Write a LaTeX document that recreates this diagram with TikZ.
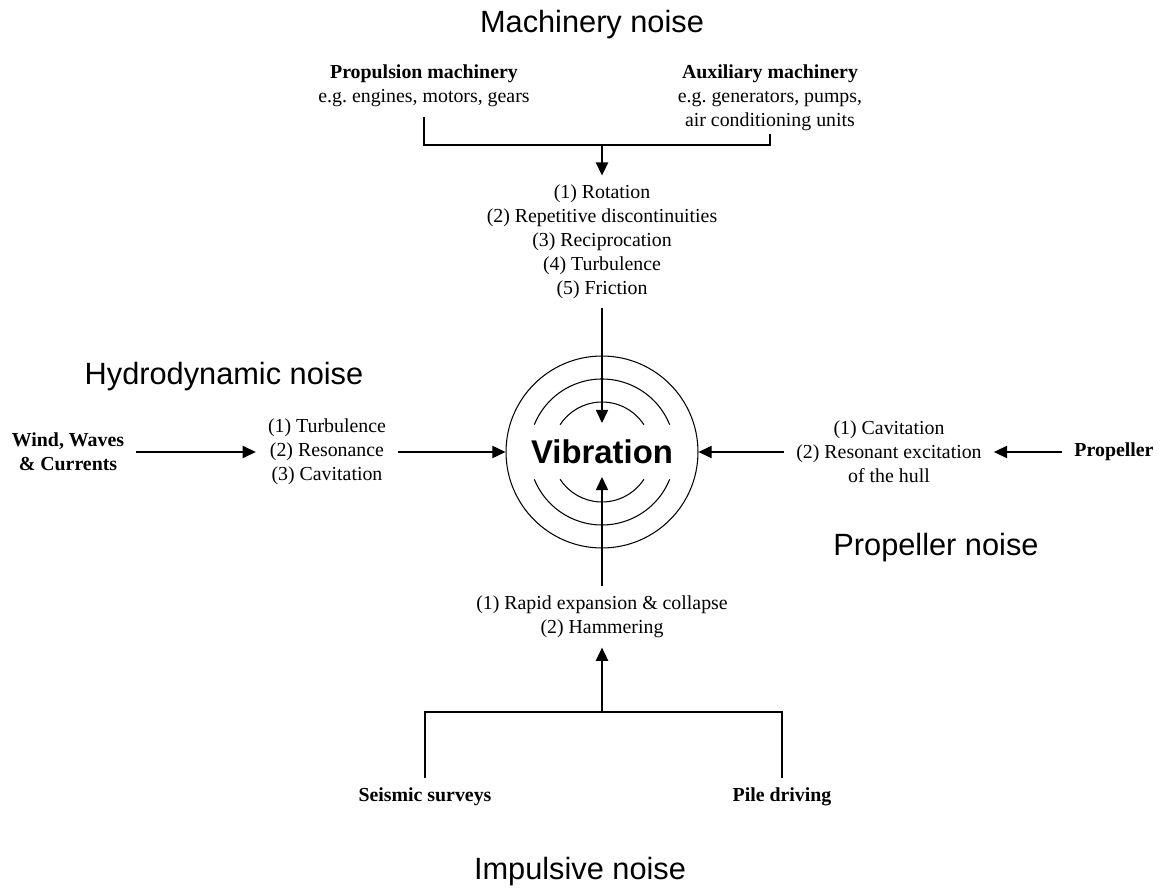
\documentclass[tikz,border=0pt]{standalone}
\usepackage{fontspec}
\setmainfont{Liberation Serif}
\newfontfamily\arialfont{Liberation Sans}
\usetikzlibrary{arrows.meta}
\newcommand{\testo}{\fontsize{11.3}{13.6}\selectfont}
\newcommand{\titolo}{\arialfont\fontsize{17.5}{21}\selectfont}
\begin{document}
\begin{tikzpicture}[x=0.02cm,y=-0.02cm,line width=0.6pt,
    >={Triangle[length=7.5pt,width=7pt]},
    testa/.style={font=\titolo},
    lista/.style={align=center,font=\testo,inner sep=1pt,outer xsep=6pt,outer ysep=4.5pt},
    fonte/.style={lista,font=\testo\bfseries}]
  \useasboundingbox (0,0) rectangle (1164,888);
  %titoli
  \node[testa] (mach) at (592,25) {Machinery noise};
  \node[testa] (hydro) at (224,377) {Hydrodynamic noise};
  \node[testa] (propn) at (936,548) {Propeller noise};
  \node[testa] (imp) at (580,872) {Impulsive noise};
  %sorgenti
  \node[lista] (prop) at (424,86) {\textbf{Propulsion machinery}\\e.g.\ engines, motors, gears};
  \node[lista,outer ysep=1pt] (aux) at (770,98) {\textbf{Auxiliary machinery}\\e.g.\ generators, pumps,\\air conditioning units};
  \node[fonte] (wind) at (68,452) {Wind, Waves\\\& Currents};
  \node[fonte] (propel) at (1114,452) {Propeller};
  \node[fonte] (seis) at (425,797) {Seismic surveys};
  \node[fonte] (pile) at (782,797) {Pile driving};
  %meccanismi
  \node[lista] (rot) at (602,242) {(1) Rotation\\(2) Repetitive discontinuities\\(3) Reciprocation\\(4) Turbulence\\(5) Friction};
  \node[lista] (hyd) at (327,452) {(1) Turbulence\\(2) Resonance\\(3) Cavitation};
  \node[lista] (cav) at (889,452) {(1) Cavitation\\(2) Resonant excitation\\of the hull};
  \node[lista] (rapid) at (602,617) {(1) Rapid expansion \& collapse\\(2) Hammering};
  %cerchio
  \node[circle,draw,minimum size=3.84cm,inner sep=0pt,font=\arialfont\bfseries\fontsize{18.7}{22}\selectfont] (vib) at (602,452) {Vibration};
  \foreach \r/\a in {1.46cm/22,1cm/33}{
    \draw (vib.center) ++(\a:\r) arc[start angle=\a,end angle=180-\a,radius=\r];
    \draw (vib.center) ++(-\a:\r) arc[start angle=-\a,end angle=-180+\a,radius=\r];
  }
  \coordinate (tipN) at (602,423);
  \coordinate (tipS) at (602,477);
  %frecce
  \coordinate (jt) at (602,145);
  \draw (prop.south) |- (jt) -| (aux.south);
  \draw[->,line width=0.8pt] (jt) -- (rot.north);
  \draw[->] (rot.south) -- (tipN);
  \draw[->] (wind.east) -- (hyd.west);
  \draw[->] (hyd.east) -- (vib.west);
  \draw[->] (cav.west) -- (vib.east);
  \draw[->] (propel.west) -- (cav.east);
  \draw[->] (rapid.north) -- (tipS);
  \coordinate (jb) at (602,712);
  \draw (seis.north) |- (jb) -| (pile.north);
  \draw[->,line width=0.8pt] (jb) -- (rapid.south);
\end{tikzpicture}
\end{document}
